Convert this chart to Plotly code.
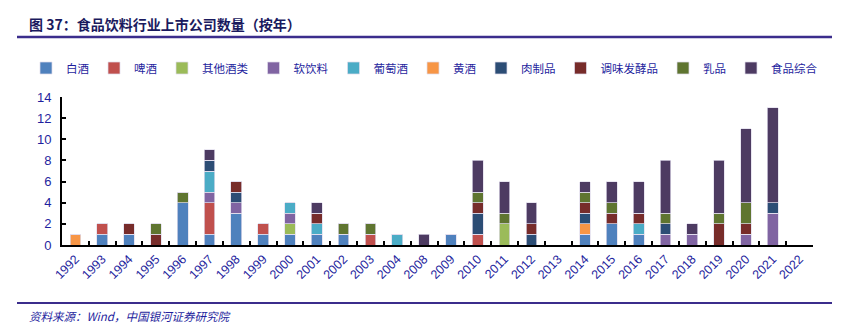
import plotly.graph_objects as go

years = ["1992", "1993", "1994", "1995", "1996", "1997", "1998", "1999", "2000", "2001",
         "2002", "2003", "2004", "2008", "2009", "2010", "2011", "2012", "2013", "2014",
         "2015", "2016", "2017", "2018", "2019", "2020", "2021", "2022"]

baijiu      = [0, 1, 1, 0, 4, 1, 3, 1, 1, 1, 1, 0, 0, 0, 1, 0, 0, 0, 0, 1, 2, 1, 0, 0, 0, 0, 0, 0]
pijiu       = [0, 1, 0, 0, 0, 3, 0, 1, 0, 0, 0, 1, 0, 0, 0, 1, 0, 0, 0, 0, 0, 0, 0, 0, 0, 0, 0, 0]
qita_jiu    = [0, 0, 0, 0, 0, 0, 0, 0, 1, 0, 0, 0, 0, 0, 0, 0, 2, 0, 0, 0, 0, 0, 0, 0, 0, 0, 0, 0]
ruan_yinliao= [0, 0, 0, 0, 0, 1, 1, 0, 1, 0, 0, 0, 0, 0, 0, 0, 0, 0, 0, 0, 0, 0, 1, 1, 0, 1, 3, 0]
putaojiu    = [0, 0, 0, 0, 0, 2, 0, 0, 1, 1, 0, 0, 1, 0, 0, 0, 0, 0, 0, 0, 0, 1, 0, 0, 0, 0, 0, 0]
huangjiu    = [1, 0, 0, 0, 0, 0, 0, 0, 0, 0, 0, 0, 0, 0, 0, 0, 0, 0, 0, 1, 0, 0, 0, 0, 0, 0, 0, 0]
rou_zhipin  = [0, 0, 0, 0, 0, 1, 1, 0, 0, 0, 0, 0, 0, 0, 0, 2, 0, 1, 0, 1, 0, 0, 1, 0, 0, 0, 1, 0]
tiaowei     = [0, 0, 1, 1, 0, 0, 1, 0, 0, 1, 0, 0, 0, 0, 0, 1, 0, 1, 0, 1, 1, 1, 0, 0, 2, 1, 0, 0]
rupin       = [0, 0, 0, 1, 1, 0, 0, 0, 0, 0, 1, 1, 0, 0, 0, 1, 1, 0, 0, 1, 1, 0, 1, 0, 1, 2, 0, 0]
shipin_zonghe=[0, 0, 0, 0, 0, 1, 0, 0, 0, 1, 0, 0, 0, 1, 0, 3, 3, 2, 0, 1, 2, 3, 5, 1, 5, 7, 9, 0]

series_names = ["白酒", "啤酒", "其他酒类", "软饮料", "葡萄酒", "黄酒", "肉制品", "调味发酵品", "乳品", "食品综合"]
series_values = [baijiu, pijiu, qita_jiu, ruan_yinliao, putaojiu, huangjiu, rou_zhipin, tiaowei, rupin, shipin_zonghe]
series_colors = ["#4F81BD", "#C0504D", "#9BBB59", "#8064A2", "#4BACC6",
                 "#F79646", "#2C4D75", "#772C2A", "#5F7530", "#4D3B62"]

W, H = 844, 323
ML, MR, MT, MB = 62, 31, 97, 78
PW, PH = W - ML - MR, H - MT - MB


def px_x(p):
    return (p - ML) / PW


def px_y(p):
    return (H - MB - p) / PH


NAVY = "#1f1f9e"
TITLE_C = "#1a1a5e"
LINE_C = "#3b2d8c"

fig = go.Figure()
for name, vals, col in zip(series_names, series_values, series_colors):
    fig.add_trace(go.Bar(
        x=years, y=vals, name=name,
        marker=dict(color=col, line=dict(color="rgba(225,220,236,0.9)", width=0.8)),
    ))

fig.update_layout(
    width=W, height=H,
    margin=dict(l=ML, r=MR, t=MT, b=MB, pad=0),
    barmode="stack", bargap=0.6,
    plot_bgcolor="white", paper_bgcolor="white",
    font=dict(family="Arial, Liberation Sans", color=NAVY),
    showlegend=True,
    legend=dict(
        orientation="h", x=px_x(26), xanchor="left", y=px_y(68), yanchor="middle",
        font=dict(family="Noto Sans CJK SC", size=11.5, color=NAVY),
        bgcolor="rgba(0,0,0,0)", traceorder="normal",
        itemwidth=30, tracegroupgap=0,
    ),
    xaxis=dict(
        type="category", showgrid=False, showline=True, linecolor="black", linewidth=2,
        ticks="inside", tickson="boundaries", ticklen=4, tickwidth=1.5, tickcolor="black",
        tickangle=-45, tickfont=dict(family="Arial, Liberation Sans", size=12.5, color=NAVY),
        zeroline=False,
    ),
    yaxis=dict(
        range=[0, 14], dtick=2, showgrid=False, showline=True, linecolor="black", linewidth=2,
        ticks="inside", ticklen=4, tickwidth=1.5, tickcolor="black",
        tickfont=dict(family="Arial, Liberation Sans", size=13, color=NAVY),
        zeroline=False, ticklabelstandoff=6,
    ),
)

# title and source text
fig.add_annotation(
    text="<b>图 37：食品饮料行业上市公司数量（按年）</b>",
    xref="paper", yref="paper", x=px_x(27), y=px_y(24), xanchor="left", yanchor="middle",
    showarrow=False, font=dict(family="Noto Sans CJK SC", size=14, color=TITLE_C),
)
fig.add_annotation(
    text="<i>资料来源：Wind，中国银河证券研究院</i>",
    xref="paper", yref="paper", x=px_x(27), y=px_y(316), xanchor="left", yanchor="middle",
    showarrow=False, font=dict(family="Noto Sans CJK SC", size=11.5, color=NAVY),
)
# decorative rules
fig.add_shape(type="line", xref="paper", yref="paper",
              x0=px_x(17), x1=px_x(832), y0=px_y(37), y1=px_y(37),
              line=dict(color=LINE_C, width=2.5))
fig.add_shape(type="line", xref="paper", yref="paper",
              x0=px_x(17), x1=px_x(832), y0=px_y(303), y1=px_y(303),
              line=dict(color=LINE_C, width=2))

fig.write_html("out.html")
